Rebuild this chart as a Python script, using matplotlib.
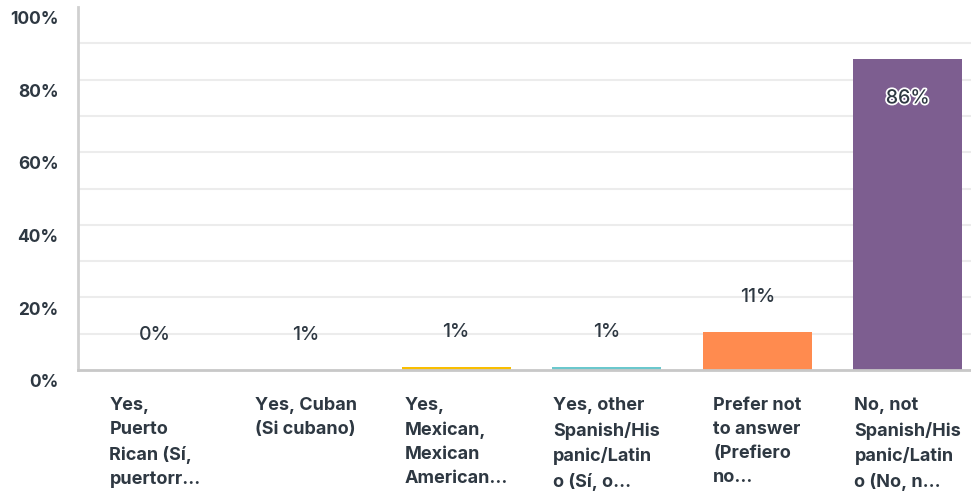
import matplotlib
matplotlib.use("Agg")
import matplotlib.pyplot as plt
import matplotlib.patheffects as pe
import numpy as np

# answer options (truncated the way the survey tool shows them)
categories = [
    "Yes,\nPuerto\nRican (Sí,\npuertorr...",
    "Yes, Cuban\n(Si cubano)",
    "Yes,\nMexican,\nMexican\nAmerican...",
    "Yes, other\nSpanish/His\npanic/Latin\no (Sí, o...",
    "Prefer not\nto answer\n(Prefiero\nno...",
    "No, not\nSpanish/His\npanic/Latin\no (No, n...",
]
values = [0.0, 0.1, 0.8, 0.8, 10.6, 85.6]
value_labels = ["0%", "1%", "1%", "1%", "11%", "86%"]
colors = ["#00BF6F", "#507CB6", "#F9BE00", "#6BC8CD", "#FF8B4F", "#7D5E90"]
yticks = [0, 20, 40, 60, 80, 100]
ytick_labels = ["0%", "20%", "40%", "60%", "80%", "100%"]

text_col = "#2e3842"
plt.rcParams["font.family"] = ["Inter", "DejaVu Sans"]

fig = plt.figure(figsize=(9.71, 4.91), dpi=100)
ax = fig.add_axes([78 / 971, 1 - 370 / 491, 1 - 78 / 971, (370 - 7) / 491])

x = np.arange(len(categories))
ax.bar(x, values, width=0.724, color=colors, zorder=2)

ax.set_xlim(-0.512, 5.42)
ax.set_ylim(0, 100)

# light grid every 10%
for g in range(10, 100, 10):
    ax.axhline(g, color="#ececec", lw=1.5, zorder=1)

for s in ["top", "right"]:
    ax.spines[s].set_visible(False)
ax.spines["left"].set_color("#d0d0d0")
ax.spines["left"].set_linewidth(2)
ax.spines["bottom"].set_color("#c8c8c8")
ax.spines["bottom"].set_linewidth(2)
ax.spines["bottom"].set_zorder(3)

ax.set_yticks(yticks)
ax.set_yticklabels(ytick_labels, fontsize=12.5, fontweight="bold", color=text_col)
ax.tick_params(axis="y", length=0, pad=14)
# y labels sit a bit below their gridlines
shift = matplotlib.transforms.ScaledTranslation(0, -3 / 72, fig.dpi_scale_trans)
for lab in ax.get_yticklabels():
    lab.set_verticalalignment("top")
    lab.set_transform(lab.get_transform() + shift)

ax.set_xticks([])
for xi, cat in zip(x, categories):
    ax.text(xi, -7.4, cat, ha="center", va="top", multialignment="left",
            fontsize=13, fontweight="bold", color=text_col, linespacing=1.55,
            clip_on=False)

# value labels above bars, inside the tall one
for xi, v, lab in zip(x, values, value_labels):
    if v > 50:
        t = ax.text(xi, v - 10.8, lab, ha="center", va="center", fontsize=14,
                    fontweight="medium", color=text_col, zorder=4)
        t.set_path_effects([pe.withStroke(linewidth=2.5, foreground="white")])
    else:
        ax.text(xi, v + 9.6, lab, ha="center", va="center", fontsize=14,
                fontweight="medium", color=text_col, zorder=4)

fig.savefig("out.png", dpi=100)
